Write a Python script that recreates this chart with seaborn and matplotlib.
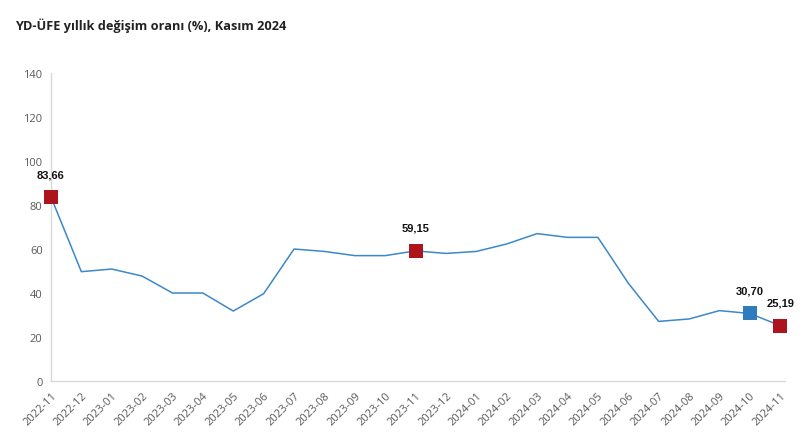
import matplotlib
matplotlib.use("Agg")
import matplotlib.pyplot as plt
import seaborn as sns
import pandas as pd

months = ["2022-11", "2022-12", "2023-01", "2023-02", "2023-03", "2023-04", "2023-05",
          "2023-06", "2023-07", "2023-08", "2023-09", "2023-10", "2023-11", "2023-12",
          "2024-01", "2024-02", "2024-03", "2024-04", "2024-05", "2024-06", "2024-07",
          "2024-08", "2024-09", "2024-10", "2024-11"]
values = [83.66, 49.7, 50.9, 47.7, 40.0, 40.0, 31.8, 39.7, 60.0, 58.9, 57.0, 57.0, 59.15,
          58.0, 58.9, 62.3, 67.0, 65.3, 65.3, 44.5, 27.1, 28.2, 32.0, 30.70, 25.19]
highlight_red = ["2022-11", "2023-11", "2024-11"]
highlight_blue = ["2024-10"]
y_ticks = [0, 20, 40, 60, 80, 100, 120, 140]

df = pd.DataFrame({"month": months, "value": values})
df["idx"] = range(len(df))

sns.set_style("white")
plt.rcParams["font.family"] = ["Open Sans", "DejaVu Sans"]

fig = plt.figure(figsize=(8.09, 4.39), dpi=100)
ax = fig.add_axes([0.063, 0.1298, 0.907, 0.7016])

line_color = "#3C88C8"
sns.lineplot(data=df, x="idx", y="value", color=line_color, linewidth=1.1, ax=ax)

red = df[df["month"].isin(highlight_red)]
blue = df[df["month"].isin(highlight_blue)]
sns.scatterplot(data=red, x="idx", y="value", marker="s", s=100, color="#AD141C",
                edgecolor="#AD141C", linewidth=0, ax=ax, zorder=5)
sns.scatterplot(data=blue, x="idx", y="value", marker="s", s=100, color="#2F7BBE",
                edgecolor="#2F7BBE", linewidth=0, ax=ax, zorder=5)
for c in ax.collections:
    c.set_clip_on(False)

for _, r in pd.concat([red, blue]).iterrows():
    ax.annotate(f"{r['value']:.2f}".replace(".", ","), (r["idx"], r["value"]),
                xytext=(0, 16.5), textcoords="offset points", ha="center", va="center",
                fontsize=8, fontweight="bold", color="#111111",
                family=["Liberation Sans", "DejaVu Sans"])

ax.set_xlim(0, len(months) - 1 + 0.15)
ax.set_ylim(0, 140)
ax.set_yticks(y_ticks)
ax.set_yticklabels([str(t) for t in y_ticks])
ax.set_xticks(df["idx"])
ax.set_xticklabels(months, rotation=45, ha="right", rotation_mode="anchor")
ax.tick_params(axis="both", labelsize=8, labelcolor="#595959", length=0, pad=6)
ax.set_xlabel("")
ax.set_ylabel("")
for s in ["top", "right"]:
    ax.spines[s].set_visible(False)
for s in ["left", "bottom"]:
    ax.spines[s].set_color("#D9D9D9")
    ax.spines[s].set_linewidth(1)
ax.grid(False)

fig.text(15 / 809, 1 - 26 / 439, "YD-ÜFE yıllık değişim oranı (%), Kasım 2024",
         fontsize=9.2, fontweight="bold", color="#222222", va="center", ha="left")

fig.savefig("out.png", dpi=100, facecolor="white")
